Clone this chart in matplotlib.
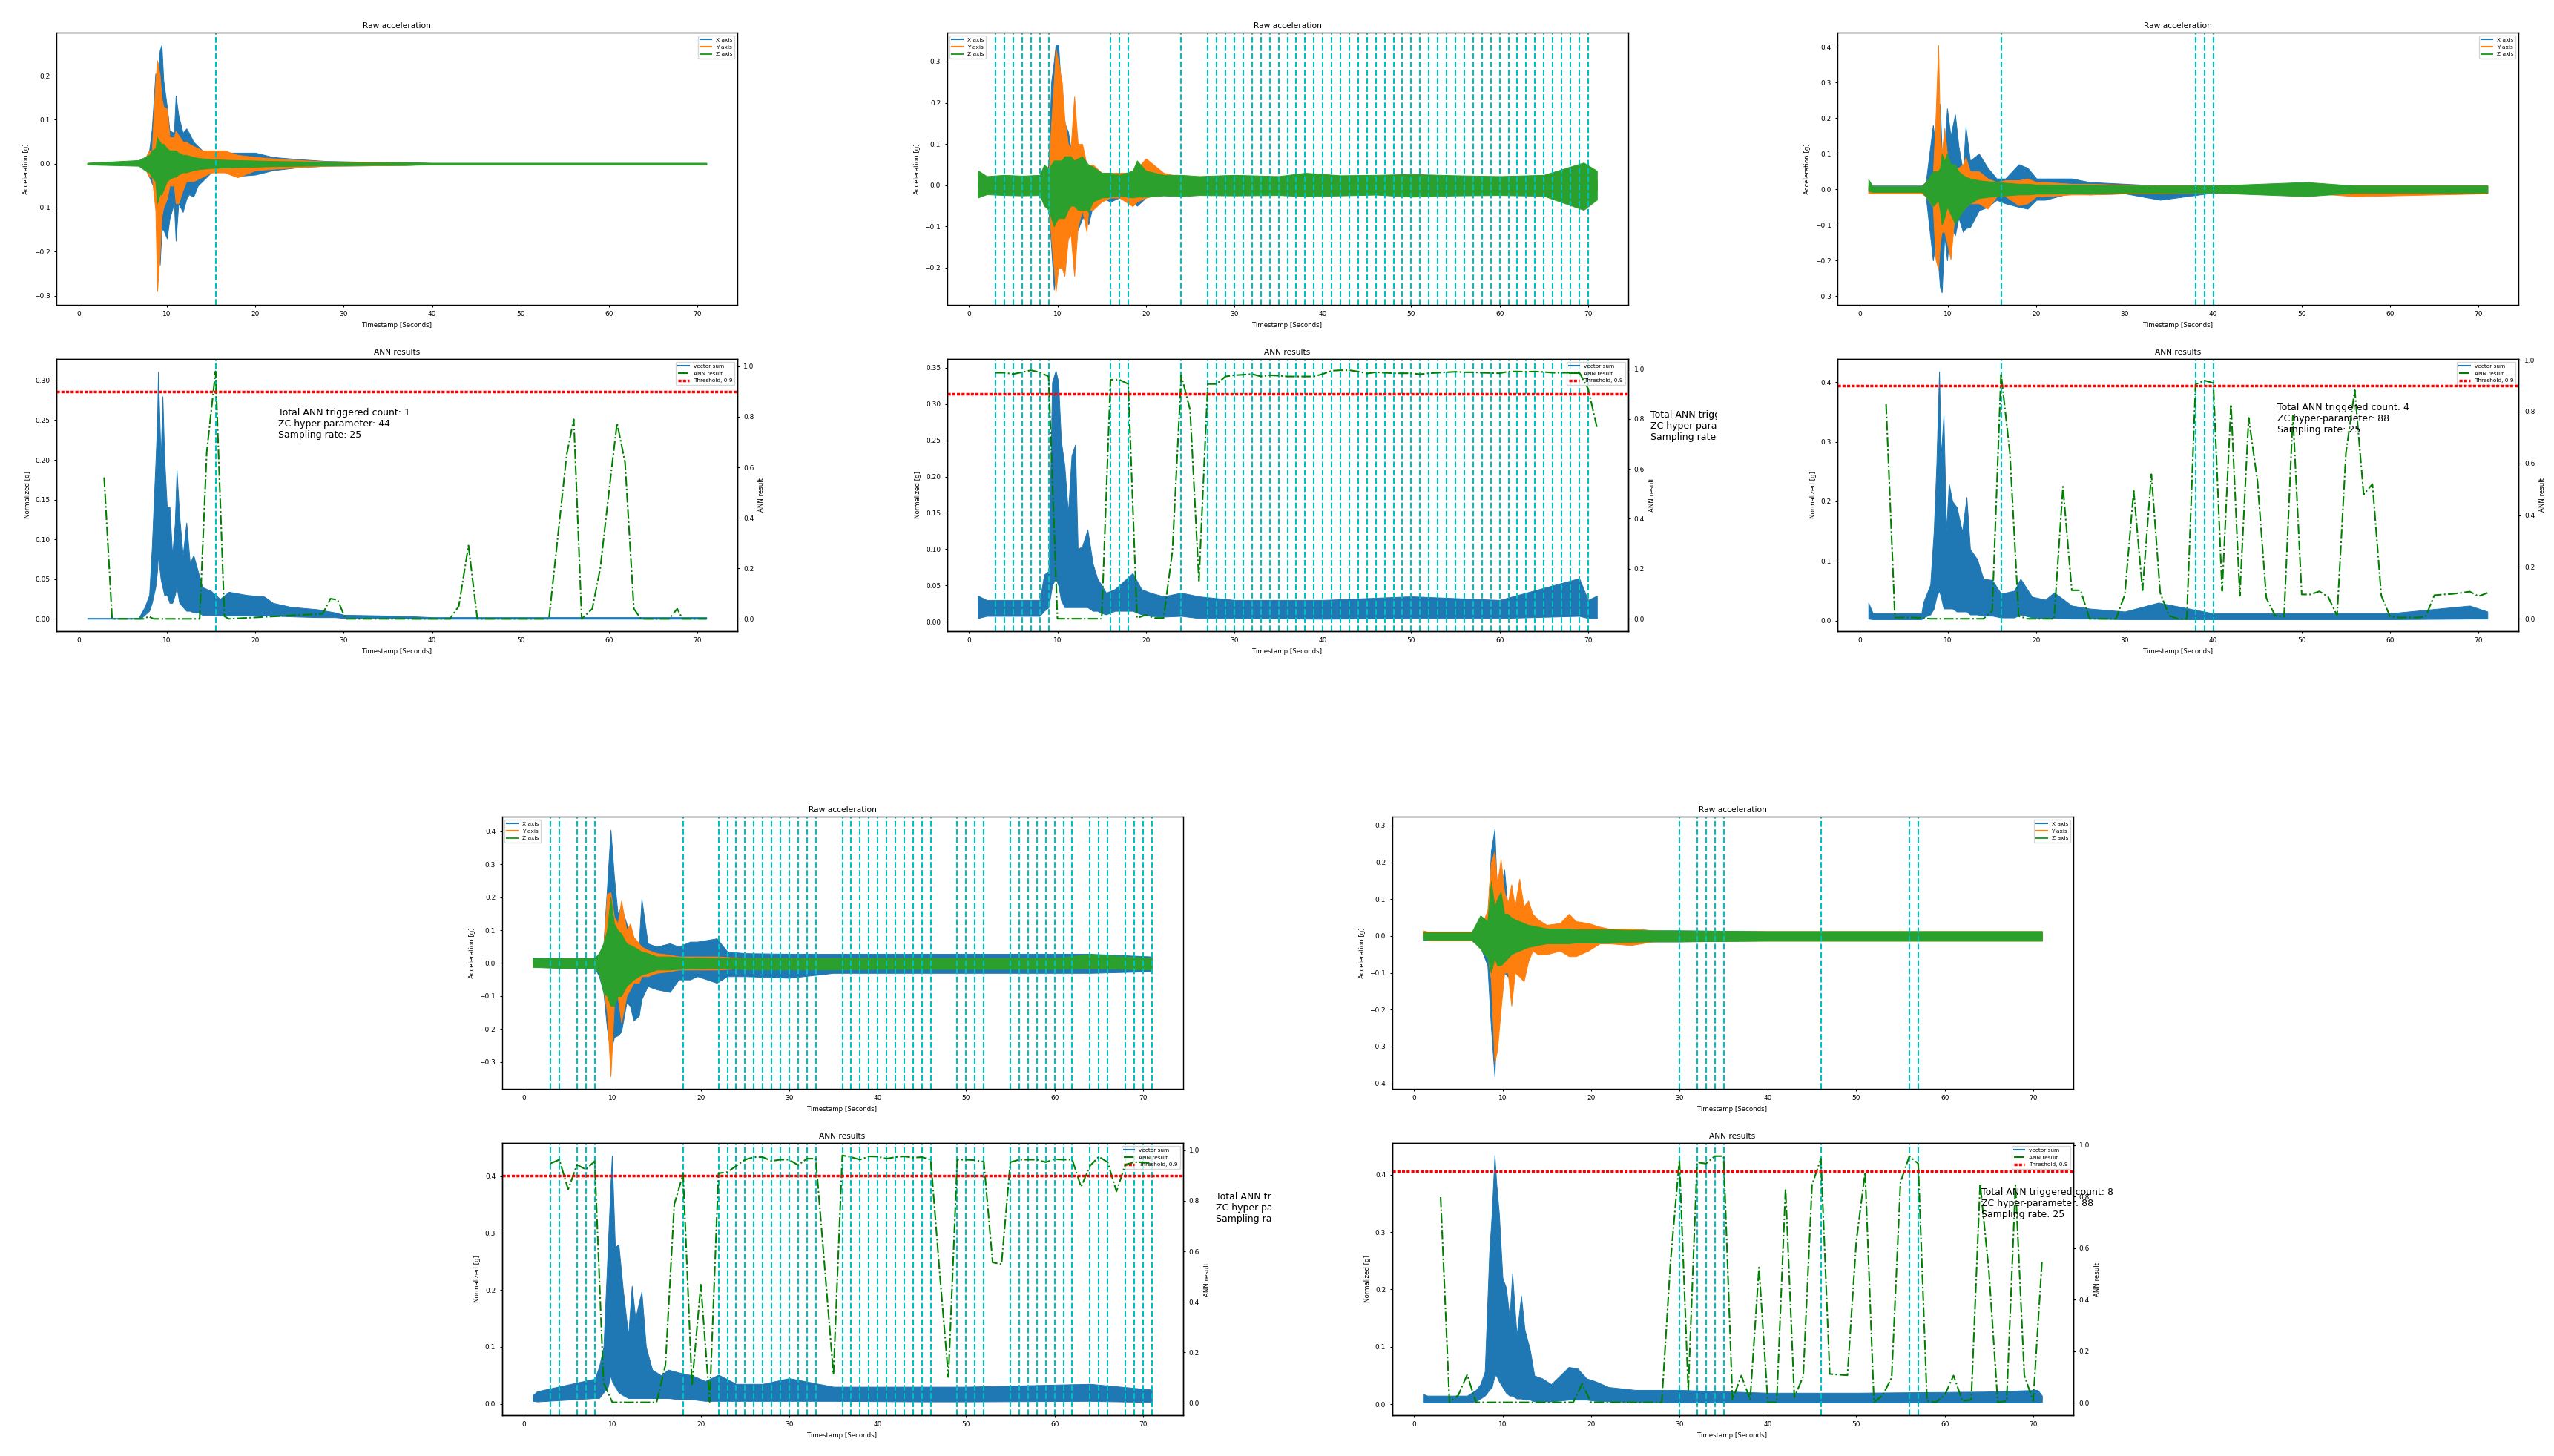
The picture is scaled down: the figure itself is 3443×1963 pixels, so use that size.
import matplotlib
matplotlib.use("Agg")
import matplotlib.pyplot as plt
from matplotlib.lines import Line2D
from matplotlib.transforms import Bbox, TransformedBbox

# ---------------- data ----------------
# raw traces: upper / lower extent of each axis trace at knot times (g)
# vector sum: lower / upper extent (g); ANN: network output (0..1)

threshold = 0.9
sampling_rate = 25
x_ticks = [0, 10, 20, 30, 40, 50, 60, 70]
ann_ticks = [0.0, 0.2, 0.4, 0.6, 0.8, 1.0]
ann_secs = list(range(3, 72))

# ---- panel 1 ----
p1_t = [1, 6.8, 7.5, 8, 8.3, 8.7, 8.9, 9.2, 9.4, 9.6, 10, 10.3, 10.8, 11, 11.3, 11.8,
        12.2, 12.5, 13, 13.5, 14, 15, 16.5, 18, 20, 22, 25, 28, 33, 37, 40, 71]
p1_x_hi = [0.001, 0.002, 0.01, 0.03, 0.08, 0.205, 0.2, 0.258, 0.27, 0.19, 0.13, 0.075, 0.07, 0.155, 0.11, 0.07,
           0.08, 0.07, 0.05, 0.04, 0.03, 0.025, 0.025, 0.025, 0.025, 0.015, 0.01, 0.006, 0.004, 0.003, 0.001, 0.001]
p1_x_lo = [-0.001, -0.002, -0.01, -0.03, -0.045, -0.06, -0.1, -0.23, -0.15, -0.15, -0.17, -0.125, -0.09, -0.175, -0.09, -0.11,
           -0.08, -0.07, -0.075, -0.05, -0.04, -0.02, -0.015, -0.028, -0.025, -0.015, -0.008, -0.005, -0.004, -0.003, -0.001, -0.001]
p1_y_hi = [0.001, 0.002, 0.01, 0.03, 0.03, 0.185, 0.235, 0.2, 0.15, 0.13, 0.125, 0.06, 0.06, 0.075, 0.065, 0.05,
           0.05, 0.045, 0.04, 0.035, 0.03, 0.03, 0.03, 0.02, 0.015, 0.012, 0.008, 0.005, 0.004, 0.003, 0.001, 0.001]
p1_y_lo = [-0.001, -0.002, -0.01, -0.03, -0.03, -0.105, -0.29, -0.2, -0.12, -0.1, -0.08, -0.05, -0.05, -0.09, -0.09, -0.06,
           -0.04, -0.04, -0.04, -0.035, -0.03, -0.02, -0.02, -0.031, -0.015, -0.012, -0.008, -0.005, -0.004, -0.003, -0.001, -0.001]
p1_z_hi = [0.002, 0.008, 0.015, 0.02, 0.03, 0.035, 0.06, 0.05, 0.045, 0.045, 0.035, 0.03, 0.03, 0.03, 0.025, 0.02,
           0.02, 0.018, 0.015, 0.013, 0.012, 0.01, 0.009, 0.008, 0.007, 0.006, 0.005, 0.004, 0.003, 0.003, 0.002, 0.002]
p1_z_lo = [-0.002, -0.005, -0.015, -0.02, -0.03, -0.04, -0.09, -0.07, -0.07, -0.06, -0.04, -0.035, -0.03, -0.03, -0.025, -0.02,
           -0.02, -0.018, -0.015, -0.013, -0.012, -0.01, -0.009, -0.008, -0.007, -0.006, -0.005, -0.004, -0.003, -0.003, -0.002, -0.002]
p1_vs_t = [1, 6.8, 7, 7.5, 8, 8.3, 8.7, 8.9, 9.0, 9.3, 9.5, 9.7, 10, 10.3, 10.6, 10.9, 11.1, 11.4, 11.8,
           12.2, 12.6, 13, 13.5, 14, 15, 16, 17, 19, 21, 22, 24, 27, 29, 30, 35, 38, 40, 71]
p1_vs_hi = [0.001, 0.001, 0.005, 0.015, 0.03, 0.09, 0.194, 0.25, 0.311, 0.2, 0.28, 0.205, 0.14, 0.141, 0.08, 0.12, 0.187, 0.13, 0.08,
            0.121, 0.07, 0.08, 0.06, 0.04, 0.035, 0.025, 0.034, 0.03, 0.028, 0.02, 0.015, 0.012, 0.008, 0.005, 0.004, 0.003, 0.002, 0.002]
p1_vs_lo = [0.0, 0.0, 0.0, 0.005, 0.01, 0.02, 0.04, 0.06, 0.08, 0.05, 0.04, 0.03, 0.03, 0.02, 0.02, 0.03, 0.04, 0.02, 0.015,
            0.01, 0.01, 0.008, 0.008, 0.005, 0.005, 0.004, 0.004, 0.004, 0.004, 0.004, 0.003, 0.002, 0.002, 0.001, 0.001, 0.0, 0.0, 0.0]
p1_ann_t = [2.9, 3.8, 7.5, 7.9, 8.5, 13.7, 14.5, 15.5, 16.5, 17.0, 27.6, 28.5, 29.3, 30.2, 42.0, 43.0, 44.1,
            45.1, 53.2, 55.2, 56.0, 56.9, 58.1, 59.0, 60.3, 60.9, 61.8, 62.8, 63.6, 66.8, 67.7, 68.3, 71.0]
p1_ann = [0.56, 0.0, 0.0, 0.01, 0.0, 0.0, 0.66, 0.98, 0.01, 0.0, 0.02, 0.08, 0.075, 0.0, 0.0, 0.05, 0.29,
          0.0, 0.0, 0.65, 0.79, 0.0, 0.04, 0.2, 0.6, 0.775, 0.62, 0.04, 0.0, 0.0, 0.04, 0.0, 0.0]

# ---- panel 2 ----
p2_t = [1, 2, 4, 6, 8, 8.5, 9, 9.3, 9.6, 9.8, 10.1, 10.5, 10.8, 11.2, 11.5, 11.9, 12.3, 12.8, 13.3, 13.5,
        14, 15, 16, 17, 18.5, 19, 20, 22, 24, 26, 30, 35, 38, 42, 46, 50, 55, 60, 65, 69.5, 71]
p2_x_hi = [0.005, 0.015, 0.015, 0.015, 0.015, 0.02, 0.05, 0.25, 0.3, 0.34, 0.34, 0.2, 0.15, 0.13, 0.09, 0.07, 0.06, 0.055, 0.05, 0.04,
           0.035, 0.03, 0.025, 0.02, 0.02, 0.02, 0.02, 0.015, 0.015, 0.015, 0.012, 0.012, 0.012, 0.012, 0.012, 0.012, 0.012, 0.012, 0.012, 0.012, 0.012]
p2_x_lo = [-0.005, -0.015, -0.015, -0.015, -0.015, -0.02, -0.06, -0.15, -0.253, -0.22, -0.17, -0.14, -0.14, -0.12, -0.1, -0.08, -0.109, -0.08, -0.08, -0.095,
           -0.05, -0.03, -0.04, -0.03, -0.04, -0.05, -0.03, -0.02, -0.015, -0.015, -0.012, -0.012, -0.012, -0.012, -0.012, -0.012, -0.012, -0.012, -0.012, -0.012, -0.012]
p2_y_hi = [0.005, 0.012, 0.012, 0.012, 0.012, 0.02, 0.03, 0.15, 0.25, 0.33, 0.3, 0.25, 0.16, 0.1, 0.09, 0.215, 0.1, 0.1, 0.05, 0.05,
           0.05, 0.03, 0.03, 0.03, 0.03, 0.04, 0.065, 0.03, 0.02, 0.015, 0.01, 0.01, 0.01, 0.01, 0.01, 0.01, 0.01, 0.01, 0.01, 0.01, 0.01]
p2_y_lo = [-0.005, -0.012, -0.012, -0.012, -0.012, -0.02, -0.04, -0.13, -0.2, -0.259, -0.2, -0.2, -0.22, -0.13, -0.12, -0.22, -0.1, -0.06, -0.113, -0.06,
           -0.06, -0.04, -0.03, -0.03, -0.051, -0.04, -0.03, -0.02, -0.02, -0.015, -0.01, -0.01, -0.01, -0.01, -0.01, -0.01, -0.01, -0.01, -0.01, -0.01, -0.01]
p2_z_hi = [0.036, 0.022, 0.025, 0.023, 0.025, 0.05, 0.04, 0.05, 0.06, 0.06, 0.06, 0.06, 0.07, 0.07, 0.07, 0.06, 0.065, 0.07, 0.055, 0.05,
           0.045, 0.03, 0.03, 0.025, 0.035, 0.06, 0.035, 0.025, 0.025, 0.022, 0.025, 0.022, 0.03, 0.024, 0.025, 0.027, 0.024, 0.022, 0.025, 0.055, 0.035]
p2_z_lo = [-0.03, -0.022, -0.024, -0.025, -0.024, -0.05, -0.06, -0.08, -0.1, -0.09, -0.08, -0.08, -0.08, -0.06, -0.05, -0.05, -0.06, -0.06, -0.06, -0.065,
           -0.04, -0.03, -0.028, -0.025, -0.03, -0.028, -0.028, -0.025, -0.027, -0.024, -0.025, -0.024, -0.027, -0.025, -0.023, -0.028, -0.025, -0.024, -0.026, -0.06, -0.035]
p2_vs_t = [1, 2, 5, 8, 8.5, 9, 9.4, 9.8, 10.1, 10.4, 10.8, 11.2, 11.6, 12, 12.3, 12.8, 13.4, 14, 14.5, 15,
           15.5, 16.5, 18.5, 19.5, 20.5, 22, 24, 26, 30, 40, 50, 60, 69, 70, 71]
p2_vs_hi = [0.036, 0.03, 0.03, 0.03, 0.065, 0.07, 0.33, 0.346, 0.33, 0.25, 0.215, 0.15, 0.229, 0.244, 0.1, 0.104, 0.127, 0.08, 0.06, 0.05,
            0.04, 0.045, 0.067, 0.045, 0.04, 0.035, 0.04, 0.035, 0.03, 0.03, 0.035, 0.03, 0.06, 0.03, 0.036]
p2_vs_lo = [0.005, 0.008, 0.008, 0.008, 0.015, 0.02, 0.05, 0.06, 0.05, 0.03, 0.02, 0.02, 0.02, 0.02, 0.02, 0.02, 0.02, 0.015, 0.015, 0.012,
            0.01, 0.015, 0.015, 0.01, 0.008, 0.007, 0.008, 0.005, 0.005, 0.004, 0.005, 0.005, 0.008, 0.005, 0.005]
p2_ann = [0.985, 0.985, 0.98, 0.987, 0.995, 0.987, 0.97, 0.0, 0.0, 0.0, 0.0, 0.0, 0.0, 0.957, 0.957, 0.94, 0.003, 0.015, 0.003, 0.003,
          0.27, 0.975, 0.836, 0.152, 0.94, 0.94, 0.97, 0.975, 0.977, 0.98, 0.97, 0.975, 0.973, 0.97, 0.97, 0.97, 0.97, 0.98, 0.993, 0.995,
          0.995, 0.99, 0.982, 0.987, 0.985, 0.983, 0.983, 0.983, 0.979, 0.983, 0.985, 0.987, 0.989, 0.987, 0.987, 0.985, 0.984, 0.983, 0.99, 0.99,
          0.989, 0.99, 0.988, 0.985, 0.985, 0.985, 0.987, 0.921, 0.767]

# ---- panel 3 ----
p3_t = [1, 1.5, 4, 7, 7.5, 8.3, 8.6, 8.9, 9.1, 9.3, 9.6, 9.9, 10.3, 10.8, 11.2, 11.7, 12, 12.5, 13.5, 14.5,
        15.5, 16.5, 18, 19, 20, 21, 24, 26, 30, 34, 40, 50.5, 56, 71]
p3_x_hi = [0.01, 0.01, 0.01, 0.01, 0.02, 0.18, 0.12, 0.11, 0.24, 0.1, 0.11, 0.227, 0.15, 0.21, 0.12, 0.05, 0.175, 0.08, 0.1, 0.06,
           0.03, 0.03, 0.07, 0.06, 0.03, 0.03, 0.03, 0.02, 0.015, 0.01, 0.01, 0.01, 0.01, 0.01]
p3_x_lo = [-0.01, -0.01, -0.01, -0.01, -0.02, -0.2, -0.15, -0.21, -0.275, -0.29, -0.13, -0.2, -0.1, -0.13, -0.08, -0.12, -0.11, -0.107, -0.06, -0.05,
           -0.03, -0.04, -0.05, -0.055, -0.03, -0.03, -0.01, -0.015, -0.012, -0.03, -0.01, -0.01, -0.01, -0.01]
p3_y_hi = [0.008, 0.008, 0.008, 0.008, 0.02, 0.04, 0.2, 0.405, 0.15, 0.1, 0.172, 0.1, 0.05, 0.06, 0.06, 0.07, 0.09, 0.05, 0.05, 0.03,
           0.02, 0.025, 0.025, 0.03, 0.02, 0.02, 0.015, 0.015, 0.012, 0.01, 0.01, 0.01, 0.01, 0.01]
p3_y_lo = [-0.012, -0.012, -0.012, -0.012, -0.02, -0.05, -0.197, -0.225, -0.15, -0.12, -0.12, -0.15, -0.197, -0.06, -0.06, -0.06, -0.05, -0.04, -0.04, -0.055,
           -0.02, -0.02, -0.045, -0.04, -0.02, -0.02, -0.015, -0.015, -0.012, -0.012, -0.01, -0.01, -0.02, -0.012]
p3_z_hi = [0.028, 0.008, 0.008, 0.008, 0.02, 0.05, 0.05, 0.05, 0.06, 0.1, 0.08, 0.1, 0.07, 0.07, 0.05, 0.04, 0.035, 0.03, 0.025, 0.022,
           0.02, 0.018, 0.015, 0.015, 0.013, 0.013, 0.012, 0.012, 0.01, 0.01, 0.01, 0.02, 0.01, 0.01]
p3_z_lo = [-0.005, -0.008, -0.008, -0.008, -0.02, -0.048, -0.04, -0.03, -0.06, -0.1, -0.08, -0.05, -0.07, -0.097, -0.08, -0.06, -0.05, -0.04, -0.025, -0.022,
           -0.02, -0.018, -0.015, -0.015, -0.013, -0.013, -0.012, -0.012, -0.01, -0.01, -0.01, -0.02, -0.01, -0.01]
p3_vs_t = [1, 1.5, 7, 7.2, 8, 8.4, 8.7, 9.0, 9.2, 9.5, 9.8, 10.1, 10.5, 11, 11.6, 12.1, 12.5, 13.3, 14, 15,
           16, 17.5, 18.2, 19.5, 21, 22, 24, 26, 30, 33.8, 40, 60, 69, 71]
p3_vs_hi = [0.03, 0.012, 0.012, 0.03, 0.06, 0.15, 0.264, 0.418, 0.275, 0.344, 0.15, 0.23, 0.2, 0.19, 0.149, 0.207, 0.12, 0.103, 0.07, 0.068,
            0.045, 0.05, 0.07, 0.04, 0.035, 0.047, 0.025, 0.02, 0.015, 0.03, 0.012, 0.012, 0.025, 0.015]
p3_vs_lo = [0.003, 0.002, 0.002, 0.005, 0.01, 0.02, 0.04, 0.05, 0.04, 0.02, 0.02, 0.02, 0.02, 0.015, 0.015, 0.015, 0.01, 0.01, 0.008, 0.008,
            0.005, 0.005, 0.01, 0.005, 0.004, 0.004, 0.003, 0.003, 0.002, 0.002, 0.002, 0.002, 0.003, 0.003]
p3_ann = [0.828, 0.005, 0.005, 0.005, 0.003, 0.0, 0.0, 0.0, 0.0, 0.0, 0.0, 0.0, 0.03, 0.947, 0.64, 0.01, 0.0, 0.0, 0.0, 0.0,
          0.51, 0.11, 0.11, 0.0, 0.0, 0.0, 0.0, 0.094, 0.494, 0.11, 0.558, 0.1, 0.012, 0.0, 0.0, 0.905, 0.92, 0.91, 0.108, 0.828,
          0.089, 0.776, 0.53, 0.08, 0.012, 0.008, 0.785, 0.094, 0.094, 0.106, 0.084, 0.012, 0.64, 0.883, 0.48, 0.52, 0.089, 0.008, 0.005, 0.005,
          0.005, 0.008, 0.091, 0.094, 0.096, 0.1, 0.105, 0.087, 0.1]

# ---- panel 4 ----
p4_t = [1, 4, 8, 8.5, 9, 9.4, 9.8, 10.2, 10.6, 11, 11.6, 12, 12.4, 13, 13.3, 14, 15, 16.5, 17.5, 18.8,
        19.6, 21.8, 23, 25, 30, 35, 40, 50, 60, 64, 71]
p4_x_hi = [0.016, 0.015, 0.015, 0.03, 0.06, 0.23, 0.405, 0.26, 0.15, 0.17, 0.12, 0.08, 0.07, 0.06, 0.195, 0.06, 0.05, 0.06, 0.05, 0.065,
           0.065, 0.075, 0.035, 0.03, 0.028, 0.028, 0.028, 0.028, 0.028, 0.028, 0.02]
p4_x_lo = [-0.005, -0.015, -0.015, -0.04, -0.09, -0.2, -0.269, -0.225, -0.22, -0.209, -0.12, -0.13, -0.175, -0.16, -0.11, -0.07, -0.08, -0.088, -0.05, -0.05,
           -0.04, -0.06, -0.04, -0.04, -0.045, -0.03, -0.03, -0.03, -0.03, -0.03, -0.025]
p4_y_hi = [0.01, 0.01, 0.01, 0.03, 0.05, 0.21, 0.215, 0.14, 0.12, 0.19, 0.1, 0.12, 0.08, 0.06, 0.05, 0.04, 0.03, 0.025, 0.02, 0.02,
           0.02, 0.02, 0.018, 0.015, 0.015, 0.015, 0.015, 0.015, 0.015, 0.015, 0.015]
p4_y_lo = [-0.01, -0.01, -0.01, -0.03, -0.08, -0.15, -0.344, -0.12, -0.1, -0.18, -0.1, -0.08, -0.06, -0.06, -0.04, -0.04, -0.03, -0.025, -0.02, -0.02,
           -0.02, -0.02, -0.018, -0.015, -0.015, -0.015, -0.015, -0.015, -0.015, -0.015, -0.015]
p4_z_hi = [0.015, 0.015, 0.015, 0.03, 0.06, 0.1, 0.2, 0.12, 0.1, 0.09, 0.06, 0.055, 0.05, 0.04, 0.035, 0.03, 0.02, 0.02, 0.018, 0.016,
           0.016, 0.015, 0.015, 0.015, 0.015, 0.015, 0.015, 0.015, 0.015, 0.027, 0.015]
p4_z_lo = [-0.012, -0.015, -0.015, -0.03, -0.09, -0.1, -0.13, -0.13, -0.1, -0.1, -0.07, -0.06, -0.05, -0.04, -0.035, -0.03, -0.02, -0.02, -0.018, -0.016,
           -0.016, -0.015, -0.015, -0.02, -0.02, -0.02, -0.018, -0.018, -0.018, -0.015, -0.02]
p4_vs_t = [1, 1.5, 8, 8.5, 9, 9.5, 9.8, 9.95, 10.3, 10.7, 11.2, 11.8, 12.2, 12.6, 13.3, 13.8, 14.5, 15.5, 16.3, 17.5,
           19, 20.5, 22, 24, 27, 30, 35, 45, 50, 64, 71]
p4_vs_hi = [0.015, 0.022, 0.044, 0.065, 0.1, 0.278, 0.387, 0.436, 0.275, 0.28, 0.2, 0.12, 0.207, 0.15, 0.197, 0.1, 0.06, 0.05, 0.06, 0.055,
            0.05, 0.04, 0.051, 0.035, 0.035, 0.045, 0.03, 0.03, 0.03, 0.035, 0.025]
p4_vs_lo = [0.005, 0.004, 0.01, 0.01, 0.02, 0.03, 0.05, 0.04, 0.03, 0.02, 0.015, 0.01, 0.01, 0.01, 0.01, 0.01, 0.01, 0.01, 0.01, 0.008,
            0.008, 0.005, 0.005, 0.005, 0.005, 0.005, 0.005, 0.004, 0.004, 0.005, 0.003]
p4_ann = [0.948, 0.963, 0.845, 0.943, 0.924, 0.957, 0.08, 0.002, 0.002, 0.002, 0.002, 0.002, 0.002, 0.15, 0.786, 0.906, 0.07, 0.468, 0.004, 0.909,
          0.914, 0.938, 0.963, 0.973, 0.973, 0.958, 0.963, 0.963, 0.941, 0.967, 0.967, 0.54, 0.112, 0.98, 0.973, 0.963, 0.976, 0.975, 0.967, 0.973,
          0.976, 0.971, 0.973, 0.963, 0.52, 0.102, 0.963, 0.963, 0.961, 0.955, 0.556, 0.549, 0.953, 0.963, 0.963, 0.963, 0.953, 0.965, 0.963, 0.963,
          0.855, 0.938, 0.975, 0.953, 0.837, 0.943, 0.953, 0.953, 0.948]

# ---- panel 5 ----
p5_t = [1, 1.5, 6.5, 7.5, 8.3, 8.7, 9.1, 9.4, 9.8, 10.2, 10.6, 11, 11.4, 11.9, 12.4, 12.9, 13.4, 14, 15, 16.5,
        17.5, 18.3, 19.7, 21, 22, 24.5, 27, 30, 40, 71]
p5_x_hi = [0.012, 0.012, 0.012, 0.02, 0.04, 0.231, 0.29, 0.1, 0.13, 0.18, 0.07, 0.05, 0.045, 0.04, 0.038, 0.035, 0.033, 0.03, 0.03, 0.03,
           0.033, 0.033, 0.03, 0.02, 0.02, 0.02, 0.015, 0.015, 0.012, 0.012]
p5_x_lo = [-0.012, -0.012, -0.012, -0.03, -0.08, -0.249, -0.381, -0.18, -0.13, -0.1, -0.11, -0.08, -0.07, -0.06, -0.05, -0.04, -0.04, -0.038, -0.03, -0.03,
           -0.035, -0.035, -0.035, -0.02, -0.02, -0.015, -0.015, -0.015, -0.012, -0.012]
p5_y_hi = [0.015, 0.012, 0.012, 0.02, 0.07, 0.2, 0.229, 0.14, 0.208, 0.12, 0.09, 0.14, 0.08, 0.155, 0.08, 0.096, 0.06, 0.045, 0.03, 0.035,
           0.06, 0.04, 0.035, 0.025, 0.02, 0.02, 0.015, 0.013, 0.013, 0.013]
p5_y_lo = [-0.005, -0.012, -0.012, -0.02, -0.05, -0.12, -0.343, -0.31, -0.2, -0.1, -0.1, -0.189, -0.1, -0.11, -0.123, -0.07, -0.04, -0.05, -0.05, -0.04,
           -0.055, -0.055, -0.04, -0.02, -0.02, -0.025, -0.015, -0.013, -0.013, -0.013]
p5_z_hi = [0.01, 0.01, 0.01, 0.056, 0.04, 0.149, 0.08, 0.1, 0.12, 0.06, 0.06, 0.05, 0.045, 0.04, 0.035, 0.03, 0.028, 0.025, 0.02, 0.02,
           0.02, 0.018, 0.018, 0.018, 0.018, 0.016, 0.015, 0.015, 0.013, 0.013]
p5_z_lo = [-0.01, -0.01, -0.01, -0.035, -0.06, -0.1, -0.06, -0.08, -0.08, -0.07, -0.06, -0.05, -0.045, -0.04, -0.035, -0.03, -0.028, -0.025, -0.02, -0.02,
           -0.02, -0.018, -0.018, -0.018, -0.018, -0.016, -0.015, -0.015, -0.013, -0.013]
p5_vs_t = [1, 1.5, 6, 7, 7.5, 8, 8.5, 8.8, 9.1, 9.3, 9.6, 10, 10.4, 10.8, 11.1, 11.6, 12.1, 12.5, 13.1, 13.6,
           14.5, 15.5, 17.5, 18.5, 19.5, 20.5, 22, 25, 30, 40, 50, 64.5, 70.5, 71]
p5_vs_hi = [0.018, 0.015, 0.015, 0.025, 0.035, 0.057, 0.263, 0.335, 0.434, 0.385, 0.332, 0.22, 0.203, 0.15, 0.228, 0.12, 0.189, 0.13, 0.095, 0.05,
            0.045, 0.035, 0.065, 0.062, 0.045, 0.04, 0.03, 0.025, 0.025, 0.02, 0.02, 0.022, 0.025, 0.015]
p5_vs_lo = [0.003, 0.003, 0.003, 0.005, 0.01, 0.015, 0.025, 0.03, 0.05, 0.05, 0.04, 0.03, 0.02, 0.015, 0.015, 0.01, 0.01, 0.008, 0.008, 0.005,
            0.005, 0.005, 0.008, 0.008, 0.008, 0.006, 0.005, 0.004, 0.003, 0.003, 0.003, 0.003, 0.003, 0.004]
p5_ann = [0.798, 0.002, 0.03, 0.109, 0.002, 0.002, 0.002, 0.002, 0.002, 0.002, 0.002, 0.002, 0.002, 0.002, 0.002, 0.002, 0.074, 0.002, 0.002, 0.002,
          0.002, 0.002, 0.002, 0.002, 0.002, 0.002, 0.55, 0.942, 0.05, 0.933, 0.928, 0.957, 0.957, 0.012, 0.106, 0.012, 0.525, 0.002, 0.002, 0.832,
          0.021, 0.103, 0.846, 0.947, 0.112, 0.109, 0.107, 0.626, 0.895, 0.002, 0.03, 0.098, 0.856, 0.957, 0.928, 0.007, 0.002, 0.03, 0.106, 0.007,
          0.012, 0.851, 0.51, 0.002, 0.007, 0.844, 0.107, 0.007, 0.549]

# ---------------- drawing ----------------
plt.rcParams.update({
    "font.family": ["DejaVu Sans"],
    "font.size": 6.5,
    "axes.titlesize": 7.7,
    "axes.labelsize": 6.2,
    "xtick.labelsize": 6.5,
    "ytick.labelsize": 6.5,
    "legend.fontsize": 5.3,
    "axes.linewidth": 1.0,
    "xtick.major.size": 2.5,
    "ytick.major.size": 2.5,
})

W, H = 3443, 1963
fig = plt.figure(figsize=(W / 100, H / 100), dpi=100)
COL = ["#1f77b4", "#ff7f0e", "#2ca02c"]


def frac(left, top, w=918, h=367):
    return [left / W, 1 - (top + h) / H, w / W, h / H]


def trace(ax, t, lo, hi, c):
    # dense sampled trace drawn as the band it sweeps out
    ax.fill_between(t, lo, hi, facecolor=c, edgecolor=c, lw=0.7)


def draw_panel(left, top, clip, raw_t, envs, raw_ylim, raw_ticks, raw_loc,
               vs_t, vs_lo, vs_hi, vs_ylim, vs_ticks,
               ann_t, ann_v, ann_ylim, txt_x, zc):
    trig = [t for t, v in zip(ann_t, ann_v) if v > threshold]

    # raw acceleration
    ax = fig.add_axes(frac(left, top))
    for (hi, lo), c in zip(envs, COL):
        trace(ax, raw_t, lo, hi, c)
    for t in trig:
        ax.axvline(t, color="c", ls="--", lw=1.5)
    ax.set_xlim(-2.5, 74.5)
    ax.set_xticks(x_ticks)
    ax.set_ylim(*raw_ylim)
    ax.set_yticks(raw_ticks)
    ax.set_title("Raw acceleration", pad=4)
    ax.set_xlabel("Timestamp [Seconds]")
    ax.set_ylabel("Acceleration [g]")
    hs = [Line2D([], [], color=c, lw=1.5) for c in COL]
    ax.legend(hs, ["X axis", "Y axis", "Z axis"], loc=raw_loc)

    # ANN results
    a1 = fig.add_axes(frac(left, top + 440))
    trace(a1, vs_t, vs_lo, vs_hi, COL[0])
    for t in trig:
        a1.axvline(t, color="c", ls="--", lw=1.5)
    a1.set_xlim(-2.5, 74.5)
    a1.set_xticks(x_ticks)
    a1.set_ylim(*vs_ylim)
    a1.set_yticks(vs_ticks)
    a1.set_title("ANN results", pad=4)
    a1.set_xlabel("Timestamp [Seconds]")
    a1.set_ylabel("Normalized [g]")

    a2 = a1.twinx()
    ln, = a2.plot(ann_t, ann_v, color="g", ls="-.", lw=1.5)
    th = a2.axhline(threshold, color="r", ls=(0, (1.2, 0.6)), lw=2.5)
    a2.set_ylim(*ann_ylim)
    a2.set_yticks(ann_ticks)
    a2.set_ylabel("ANN result")
    a1.legend([Line2D([], [], color=COL[0], lw=1.5), ln, th],
              ["vector sum", "ANN result", "Threshold, 0.9"], loc="upper right")

    txt = fig.text(txt_x, 0.835,
                   "Total ANN triggered count: %d\nZC hyper-parameter: %d\nSampling rate: %d"
                   % (len(trig), zc, sampling_rate),
                   transform=a2.transData, va="top", ha="left", fontsize=9)
    x0, y0, x1, y1 = clip
    txt.set_clip_box(TransformedBbox(Bbox.from_extents(x0 / W, 1 - y1 / H, x1 / W, 1 - y0 / H),
                                     fig.transFigure))
    txt.set_clip_on(True)


draw_panel(76, 44, (0, 0, 1114, 900), p1_t,
           [(p1_x_hi, p1_x_lo), (p1_y_hi, p1_y_lo), (p1_z_hi, p1_z_lo)],
           (-0.321, 0.298), [-0.3, -0.2, -0.1, 0.0, 0.1, 0.2], "upper right",
           p1_vs_t, p1_vs_lo, p1_vs_hi, (-0.0156, 0.327), [0.0, 0.05, 0.10, 0.15, 0.20, 0.25, 0.30],
           p1_ann_t, p1_ann, (-0.049, 1.029), 22.6, 44)

draw_panel(1276.5, 44, (1200, 0, 2314, 900), p2_t,
           [(p2_x_hi, p2_x_lo), (p2_y_hi, p2_y_lo), (p2_z_hi, p2_z_lo)],
           (-0.29, 0.37), [-0.2, -0.1, 0.0, 0.1, 0.2, 0.3], "upper left",
           p2_vs_t, p2_vs_lo, p2_vs_hi, (-0.013, 0.362), [0.0, 0.05, 0.10, 0.15, 0.20, 0.25, 0.30, 0.35],
           ann_secs, p2_ann, (-0.05, 1.04), 77.1, 44)

draw_panel(2477, 44, (2400, 0, 3443, 900), p3_t,
           [(p3_x_hi, p3_x_lo), (p3_y_hi, p3_y_lo), (p3_z_hi, p3_z_lo)],
           (-0.325, 0.44), [-0.3, -0.2, -0.1, 0.0, 0.1, 0.2, 0.3, 0.4], "upper right",
           p3_vs_t, p3_vs_lo, p3_vs_hi, (-0.018, 0.439), [0.0, 0.1, 0.2, 0.3, 0.4],
           ann_secs, p3_ann, (-0.048, 1.003), 47.2, 88)

draw_panel(676.5, 1101, (600, 1000, 1714, 1963), p4_t,
           [(p4_x_hi, p4_x_lo), (p4_y_hi, p4_y_lo), (p4_z_hi, p4_z_lo)],
           (-0.382, 0.445), [-0.3, -0.2, -0.1, 0.0, 0.1, 0.2, 0.3, 0.4], "upper left",
           p4_vs_t, p4_vs_lo, p4_vs_hi, (-0.02, 0.458), [0.0, 0.1, 0.2, 0.3, 0.4],
           ann_secs, p4_ann, (-0.049, 1.029), 78.2, 88)

draw_panel(1876.5, 1101, (1800, 1000, 2914, 1963), p5_t,
           [(p5_x_hi, p5_x_lo), (p5_y_hi, p5_y_lo), (p5_z_hi, p5_z_lo)],
           (-0.415, 0.324), [-0.4, -0.3, -0.2, -0.1, 0.0, 0.1, 0.2, 0.3], "upper right",
           p5_vs_t, p5_vs_lo, p5_vs_hi, (-0.019, 0.455), [0.0, 0.1, 0.2, 0.3, 0.4],
           ann_secs, p5_ann, (-0.048, 1.008), 64.1, 88)

fig.savefig("out.png", dpi=100, facecolor="white")
